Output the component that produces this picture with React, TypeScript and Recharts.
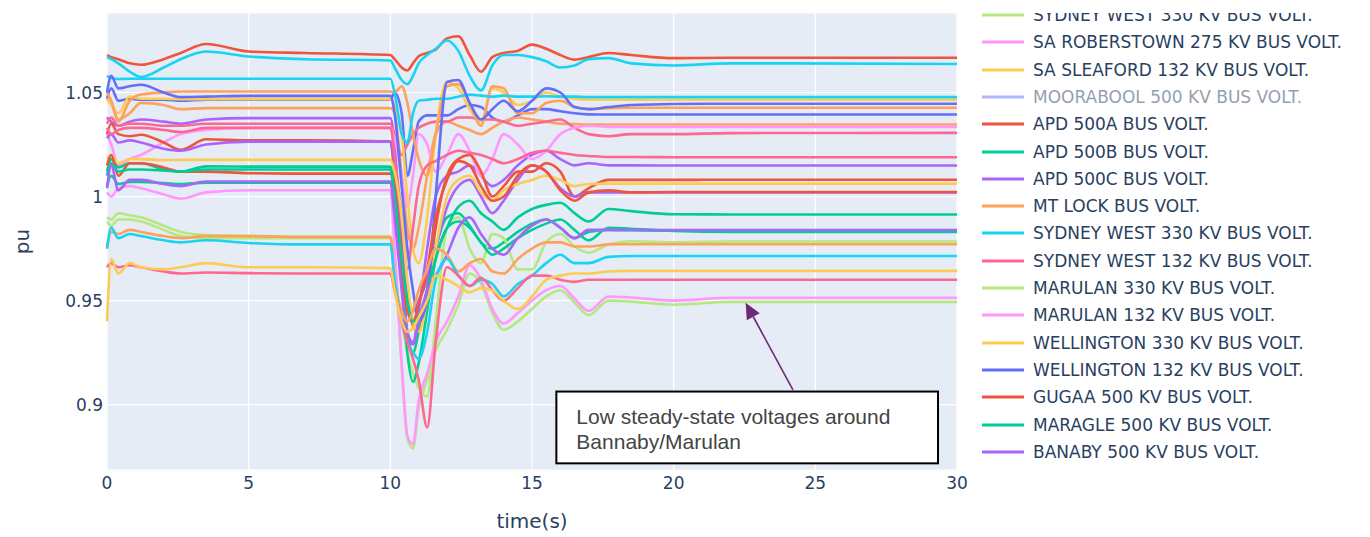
import { CartesianGrid, Line, LineChart, ReferenceArea, ReferenceLine, XAxis, YAxis } from "recharts";

// sample times (s)
const TIME = [0, 0.15, 0.4, 0.8, 1.2, 2, 2.6, 3.5, 5, 7, 10, 10.15, 10.4, 10.6, 10.8, 11, 11.3, 11.6, 12, 12.4, 12.8, 13.2, 13.6, 14, 14.5, 15, 15.5, 16, 16.5, 17, 17.7, 18.5, 20, 22, 30];

// bus voltages (pu), one value per sample time
const other0 = [1.047, 1.052, 1.046, 1.047, 1.0465, 1.0465, 1.046, 1.0465, 1.0465, 1.0465, 1.0465, 1.05, 1.04, 1.01, 1.022, 1.036, 1.039, 1.039, 1.039, 1.042, 1.044, 1.043, 1.038, 1.036, 1.039, 1.042, 1.042, 1.041, 1.04, 1.0395, 1.0394, 1.0394, 1.0394, 1.0394, 1.0394];
const other1 = [1.068, 1.067, 1.066, 1.064, 1.0633, 1.066, 1.069, 1.0733, 1.0697, 1.069, 1.068, 1.066, 1.062, 1.0606, 1.064, 1.0674, 1.069, 1.0706, 1.076, 1.077, 1.068, 1.06, 1.067, 1.069, 1.07, 1.073, 1.071, 1.068, 1.0658, 1.067, 1.069, 1.068, 1.0665, 1.0667, 1.0667];
const other2 = [1.005, 1.01, 1.006, 1.007, 1.007, 1.0065, 1.006, 1.0067, 1.0067, 1.0067, 1.0067, 0.995, 0.96, 0.935, 0.925, 0.935, 0.955, 0.975, 0.99, 0.992, 0.986, 0.978, 0.975, 0.978, 0.983, 0.987, 0.989, 0.985, 0.98, 0.983, 0.984, 0.9838, 0.9836, 0.9836, 0.9836];
const other3 = [1.038, 1.036, 1.034, 1.036, 1.037, 1.036, 1.035, 1.037, 1.0377, 1.0377, 1.0377, 1.025, 0.97, 0.935, 0.93, 0.945, 0.975, 1.0, 1.01, 1.012, 1.015, 1.01, 1.005, 1.008, 1.015, 1.02, 1.022, 1.018, 1.015, 1.016, 1.015, 1.015, 1.0149, 1.0149, 1.0149];
const other4 = [1.047, 1.045, 1.037, 1.04, 1.045, 1.044, 1.042, 1.0425, 1.0425, 1.0425, 1.0425, 1.04, 1.01, 0.985, 0.975, 0.985, 1.01, 1.03, 1.036, 1.034, 1.032, 1.03, 1.033, 1.036, 1.038, 1.037, 1.036, 1.035, 1.0348, 1.0346, 1.0346, 1.0346, 1.0346, 1.0346, 1.0346];
const other5 = [1.067, 1.066, 1.064, 1.06, 1.0574, 1.062, 1.066, 1.0697, 1.0673, 1.066, 1.0654, 1.062, 1.056, 1.054, 1.058, 1.064, 1.068, 1.071, 1.075, 1.07, 1.058, 1.051, 1.063, 1.068, 1.068, 1.067, 1.065, 1.062, 1.063, 1.066, 1.0665, 1.064, 1.063, 1.064, 1.0637];
const other6 = [1.035, 1.038, 1.034, 1.035, 1.035, 1.034, 1.034, 1.035, 1.035, 1.035, 1.035, 1.03, 1.02, 1.025, 1.03, 1.033, 1.035, 1.036, 1.036, 1.038, 1.038, 1.037, 1.037, 1.036, 1.034, 1.035, 1.036, 1.037, 1.033, 1.03, 1.029, 1.03, 1.03, 1.0305, 1.0306];
const sydneyWest330a = [0.99, 0.989, 0.992, 0.991, 0.99, 0.986, 0.983, 0.9815, 0.981, 0.9808, 0.9808, 0.965, 0.94, 0.925, 0.915, 0.908, 0.904, 0.94, 0.985, 0.99, 0.975, 0.968, 0.982, 0.98, 0.965, 0.965, 0.978, 0.982, 0.976, 0.973, 0.977, 0.9785, 0.978, 0.9784, 0.9784];
const saRoberstown275 = [1.03, 1.025, 1.015, 1.018, 1.02, 1.026, 1.03, 1.032, 1.033, 1.033, 1.033, 1.028, 1.01, 0.995, 1.01, 1.03, 1.025, 1.012, 1.02, 1.03, 1.022, 1.01, 1.018, 1.03, 1.025, 1.018, 1.022, 1.03, 1.033, 1.034, 1.0335, 1.0335, 1.0335, 1.0335, 1.0335];
const saSleaford132 = [1.047, 1.044, 1.04, 1.048, 1.047, 1.047, 1.0468, 1.0468, 1.0468, 1.0468, 1.0468, 1.044, 1.03, 1.0, 0.975, 0.968, 0.99, 1.03, 1.055, 1.052, 1.042, 1.036, 1.052, 1.05, 1.044, 1.046, 1.05, 1.048, 1.047, 1.0465, 1.0465, 1.0465, 1.0465, 1.0465, 1.0465];
const apd500a = [1.03, 1.035, 1.03, 1.029, 1.0297, 1.026, 1.0225, 1.0275, 1.027, 1.027, 1.0264, 1.01, 0.975, 0.95, 0.938, 0.935, 0.955, 0.985, 1.01, 1.018, 1.02, 1.012, 1.0, 1.005, 1.012, 1.012, 1.016, 1.012, 1.0, 1.004, 1.008, 1.008, 1.008, 1.0081, 1.0081];
const apd500b = [1.012, 1.018, 1.014, 1.016, 1.016, 1.013, 1.012, 1.0145, 1.0144, 1.0144, 1.0144, 1.0, 0.96, 0.925, 0.911, 0.92, 0.945, 0.97, 0.985, 0.995, 0.998, 0.992, 0.988, 0.984, 0.99, 0.994, 0.996, 0.997, 0.992, 0.988, 0.994, 0.993, 0.9915, 0.9914, 0.9914];
const apd500c = [1.028, 1.03, 1.026, 1.027, 1.026, 1.023, 1.022, 1.025, 1.0264, 1.0264, 1.0264, 1.015, 0.985, 0.955, 0.945, 0.95, 0.96, 0.975, 0.995, 1.005, 1.008, 1.0, 0.992, 0.998, 1.008, 1.015, 1.012, 1.004, 1.0, 1.002, 1.002, 1.002, 1.002, 1.002, 1.002];
const mtLock = [1.05, 1.046, 1.036, 1.046, 1.049, 1.05, 1.0505, 1.0505, 1.0505, 1.0505, 1.0505, 1.05, 1.053, 1.045, 1.03, 1.018, 1.01, 1.03, 1.053, 1.054, 1.045, 1.034, 1.053, 1.052, 1.04, 1.04, 1.045, 1.046, 1.043, 1.042, 1.0425, 1.0427, 1.0427, 1.0427, 1.0427];
const sydneyWest330b = [1.058, 1.057, 1.0565, 1.0566, 1.0566, 1.0566, 1.0566, 1.0566, 1.0566, 1.0566, 1.0566, 1.05, 1.03, 1.026, 1.04, 1.046, 1.0465, 1.047, 1.047, 1.048, 1.049, 1.0485, 1.048, 1.0485, 1.048, 1.048, 1.0482, 1.048, 1.048, 1.0478, 1.0478, 1.0478, 1.0478, 1.0478, 1.0478];
const sydneyWest132 = [1.033, 1.03, 1.032, 1.033, 1.033, 1.032, 1.031, 1.033, 1.033, 1.033, 1.033, 1.02, 0.99, 0.965, 0.985, 1.005, 1.015, 1.017, 1.02, 1.022, 1.021, 1.02, 1.018, 1.016, 1.018, 1.021, 1.022, 1.021, 1.02, 1.0195, 1.019, 1.019, 1.0189, 1.0189, 1.0189];
const marulan330 = [0.988, 0.986, 0.989, 0.989, 0.988, 0.984, 0.981, 0.98, 0.98, 0.98, 0.98, 0.972, 0.918, 0.884, 0.879, 0.898, 0.912, 0.926, 0.936, 0.948, 0.963, 0.958, 0.944, 0.936, 0.94, 0.946, 0.952, 0.955, 0.949, 0.943, 0.95, 0.9495, 0.948, 0.9494, 0.9494];
const marulan132 = [1.002, 1.0, 1.004, 1.005, 1.004, 1.001, 0.999, 1.002, 1.003, 1.003, 1.003, 0.975, 0.92, 0.885, 0.881, 0.902, 0.915, 0.93, 0.94, 0.952, 0.967, 0.96, 0.946, 0.939, 0.944, 0.95, 0.955, 0.957, 0.951, 0.945, 0.952, 0.9515, 0.95, 0.9514, 0.9514];
const wellington330 = [1.018, 1.02, 1.016, 1.018, 1.018, 1.0175, 1.0176, 1.0176, 1.0176, 1.0176, 1.0176, 1.012, 0.99, 0.96, 0.94, 0.935, 0.95, 0.975, 1.0, 1.008, 1.01, 1.002, 0.998, 1.003, 1.006, 1.008, 1.01, 1.008, 1.005, 1.006, 1.0062, 1.0062, 1.0062, 1.0062, 1.0062];
const wellington132 = [1.05, 1.058, 1.052, 1.053, 1.0537, 1.05, 1.0478, 1.048, 1.0484, 1.0484, 1.0484, 1.04, 1.005, 0.975, 0.955, 0.94, 0.95, 1.0, 1.055, 1.056, 1.045, 1.037, 1.042, 1.046, 1.041, 1.046, 1.052, 1.05, 1.043, 1.042, 1.043, 1.044, 1.0445, 1.0446, 1.0446];
const gugaa500 = [1.015, 1.02, 1.01, 1.016, 1.016, 1.014, 1.012, 1.012, 1.0112, 1.011, 1.011, 1.0, 0.965, 0.945, 0.94, 0.948, 0.965, 0.99, 1.008, 1.017, 1.015, 1.005, 0.998, 1.0, 1.01, 1.015, 1.012, 1.003, 0.998, 1.002, 1.003, 1.002, 1.0022, 1.0022, 1.0022];
const maragle500 = [1.01, 1.016, 1.012, 1.013, 1.013, 1.0125, 1.012, 1.013, 1.013, 1.013, 1.013, 1.0, 0.97, 0.95, 0.94, 0.942, 0.955, 0.97, 0.985, 0.988, 0.985, 0.978, 0.972, 0.975, 0.98, 0.984, 0.987, 0.989, 0.984, 0.979, 0.985, 0.9845, 0.9835, 0.983, 0.983];
const banaby500 = [1.004, 1.015, 1.003, 1.008, 1.008, 1.006, 1.005, 1.0072, 1.0072, 1.0072, 1.0072, 0.99, 0.955, 0.93, 0.929, 0.94, 0.955, 0.962, 0.972, 0.985, 0.99, 0.982, 0.975, 0.972, 0.98, 0.986, 0.989, 0.985, 0.98, 0.984, 0.984, 0.9839, 0.9839, 0.9839, 0.9839];
const other24 = [0.975, 0.983, 0.982, 0.984, 0.983, 0.981, 0.98, 0.981, 0.981, 0.9805, 0.9805, 0.96, 0.945, 0.94, 0.945, 0.955, 0.965, 0.975, 0.972, 0.964, 0.968, 0.97, 0.964, 0.963, 0.97, 0.975, 0.978, 0.978, 0.976, 0.976, 0.977, 0.9771, 0.9771, 0.9771, 0.9771];
const other25 = [0.975, 0.985, 0.98, 0.982, 0.981, 0.979, 0.978, 0.979, 0.9777, 0.977, 0.977, 0.96, 0.94, 0.93, 0.925, 0.922, 0.935, 0.96, 0.97, 0.962, 0.957, 0.96, 0.958, 0.952, 0.958, 0.962, 0.968, 0.972, 0.968, 0.968, 0.971, 0.9714, 0.9714, 0.9714, 0.9714];
const other26 = [0.966, 0.968, 0.966, 0.967, 0.966, 0.964, 0.963, 0.9635, 0.9632, 0.963, 0.963, 0.955, 0.94, 0.93, 0.922, 0.912, 0.889, 0.93, 0.966, 0.962, 0.957, 0.961, 0.955, 0.95, 0.956, 0.962, 0.962, 0.96, 0.959, 0.96, 0.96, 0.96, 0.96, 0.96, 0.96];
const other27 = [0.94, 0.97, 0.963, 0.968, 0.966, 0.965, 0.966, 0.968, 0.966, 0.966, 0.9656, 0.955, 0.94, 0.935, 0.937, 0.942, 0.95, 0.962, 0.96, 0.957, 0.954, 0.956, 0.955, 0.95, 0.946, 0.952, 0.96, 0.962, 0.963, 0.963, 0.964, 0.9643, 0.9643, 0.9643, 0.9643];

const Y_TICKS = [0.9, 0.95, 1, 1.05];
const X_TICKS = [0, 5, 10, 15, 20, 25, 30];

const NOTE_LINES = ["Low steady-state voltages around", "Bannaby/Marulan"];
const NOTE_TIP = { x: 22.54, y: 0.949 };
const NOTE_TAIL = { x: 24.21, y: 0.9071 };
const NOTE_BOX = { x1: 15.86, x2: 29.33, y1: 0.8718, y2: 0.9063 };

const BLUE = "#636efa";
const RED = "#EF553B";
const GREEN = "#00cc96";
const PURPLE = "#ab63fa";
const ORANGE = "#FFA15A";
const CYAN = "#19d3f3";
const ROSE = "#FF6692";
const LIME = "#B6E880";
const PINK = "#FF97FF";
const GOLD = "#FECB52";
const TEXT = "#2a3f5f";
const FONT = "'DejaVu Sans', Verdana, sans-serif";

type Trace = { key: string; name?: string; color: string; values: number[] | null };

// values: null = legend-only trace (toggled off)
const TRACES: Trace[] = [
  { key: "t00", color: BLUE, values: other0 },
  { key: "t01", color: RED, values: other1 },
  { key: "t02", color: GREEN, values: other2 },
  { key: "t03", color: PURPLE, values: other3 },
  { key: "t04", color: ORANGE, values: other4 },
  { key: "t05", color: CYAN, values: other5 },
  { key: "t06", color: ROSE, values: other6 },
  { key: "t07", name: "SYDNEY WEST 330 KV BUS VOLT.", color: LIME, values: sydneyWest330a },
  { key: "t08", name: "SA ROBERSTOWN 275 KV BUS VOLT.", color: PINK, values: saRoberstown275 },
  { key: "t09", name: "SA SLEAFORD 132 KV BUS VOLT.", color: GOLD, values: saSleaford132 },
  { key: "t10", name: "MOORABOOL 500 KV BUS VOLT.", color: BLUE, values: null },
  { key: "t11", name: "APD 500A BUS VOLT.", color: RED, values: apd500a },
  { key: "t12", name: "APD 500B BUS VOLT.", color: GREEN, values: apd500b },
  { key: "t13", name: "APD 500C BUS VOLT.", color: PURPLE, values: apd500c },
  { key: "t14", name: "MT LOCK BUS VOLT.", color: ORANGE, values: mtLock },
  { key: "t15", name: "SYDNEY WEST 330 KV BUS VOLT.", color: CYAN, values: sydneyWest330b },
  { key: "t16", name: "SYDNEY WEST 132 KV BUS VOLT.", color: ROSE, values: sydneyWest132 },
  { key: "t17", name: "MARULAN 330 KV BUS VOLT.", color: LIME, values: marulan330 },
  { key: "t18", name: "MARULAN 132 KV BUS VOLT.", color: PINK, values: marulan132 },
  { key: "t19", name: "WELLINGTON 330 KV BUS VOLT.", color: GOLD, values: wellington330 },
  { key: "t20", name: "WELLINGTON 132 KV BUS VOLT.", color: BLUE, values: wellington132 },
  { key: "t21", name: "GUGAA 500 KV BUS VOLT.", color: RED, values: gugaa500 },
  { key: "t22", name: "MARAGLE 500 KV BUS VOLT.", color: GREEN, values: maragle500 },
  { key: "t23", name: "BANABY 500 KV BUS VOLT.", color: PURPLE, values: banaby500 },
  { key: "t24", color: ORANGE, values: other24 },
  { key: "t25", color: CYAN, values: other25 },
  { key: "t26", color: ROSE, values: other26 },
  { key: "t27", color: GOLD, values: other27 },
];

const rows = TIME.map((t, i) => {
  const row: Record<string, number> = { t };
  TRACES.forEach((tr) => {
    if (tr.values) row[tr.key] = tr.values[i];
  });
  return row;
});

function Arrow(props: any) {
  const { x1, y1, x2, y2, stroke } = props;
  const len = Math.hypot(x1 - x2, y1 - y2);
  const ux = (x1 - x2) / len;
  const uy = (y1 - y2) / len;
  const head = 16;
  const half = 7.4;
  const bx = x2 + ux * head;
  const by = y2 + uy * head;
  const pts = `${x2},${y2} ${bx - uy * half},${by + ux * half} ${bx + uy * half},${by - ux * half}`;
  return (
    <g>
      <line x1={x1} y1={y1} x2={bx} y2={by} stroke={stroke} strokeWidth={1.6} />
      <polygon points={pts} fill={stroke} />
    </g>
  );
}

function NoteBox(props: any) {
  const { x, y, width, height } = props;
  return (
    <g>
      <rect x={x} y={y} width={width} height={height} fill="#fff" stroke="#000" strokeWidth={2} />
      <text x={x + 20} y={y + 32.5} fontFamily="'Liberation Sans', Arial, sans-serif" fontSize={21} fill="#444">
        <tspan x={x + 20}>{NOTE_LINES[0]}</tspan>
        <tspan x={x + 20} dy={24.5}>{NOTE_LINES[1]}</tspan>
      </text>
    </g>
  );
}

function LegendPanel() {
  const items = TRACES.filter((tr) => tr.name);
  return (
    <div style={{ position: "absolute", left: 980, top: 13, width: 390, height: 457, overflow: "hidden" }}>
      <div style={{ marginTop: -11.6 }}>
        {items.map((it) => (
          <div
            key={it.key}
            style={{ height: 27.3, display: "flex", alignItems: "center", opacity: it.values ? 1 : 0.5 }}
          >
            <svg width={53} height={8} style={{ flex: "none" }}>
              <line x1={2} x2={44} y1={4} y2={4} stroke={it.color} strokeWidth={3} />
            </svg>
            <span style={{ fontFamily: FONT, fontSize: 17, color: TEXT, whiteSpace: "nowrap" }}>{it.name}</span>
          </div>
        ))}
      </div>
    </div>
  );
}

export default function App() {
  const tick = { fill: TEXT, fontSize: 17, fontFamily: FONT };
  return (
    <div style={{ position: "absolute", left: 0, top: 0, width: 1370, height: 537, background: "#fff", fontFamily: FONT }}>
      <LineChart width={1370} height={537} data={rows} margin={{ top: 13, right: 413, bottom: 0, left: 0 }}>
        <CartesianGrid stroke="#fff" strokeWidth={1.2} fill="#E5ECF6" />
        <XAxis
          dataKey="t"
          type="number"
          domain={[0, 30]}
          ticks={X_TICKS}
          axisLine={false}
          tickLine={false}
          tickSize={0}
          tickMargin={7}
          height={67}
          tick={tick}
          label={{
            content: ({ viewBox }: any) => (
              <text x={viewBox.x + viewBox.width / 2} y={528} textAnchor="middle" fontSize={20} fill={TEXT} fontFamily={FONT}>
                time(s)
              </text>
            ),
          }}
        />
        <YAxis
          type="number"
          domain={[0.8686, 1.0882]}
          allowDataOverflow
          ticks={Y_TICKS}
          axisLine={false}
          tickLine={false}
          tickSize={0}
          tickMargin={4}
          width={107}
          tick={tick}
          tickFormatter={(v: number) => String(v)}
          label={{
            content: ({ viewBox }: any) => {
              const cy = viewBox.y + viewBox.height / 2;
              return (
                <text x={29} y={cy} transform={`rotate(-90, 29, ${cy})`} textAnchor="middle" fontSize={20} fill={TEXT} fontFamily={FONT}>
                  pu
                </text>
              );
            },
          }}
        />
        {TRACES.filter((tr) => tr.values).map((tr) => (
          <Line
            key={tr.key}
            dataKey={tr.key}
            type="monotone"
            stroke={tr.color}
            strokeWidth={2.6}
            dot={false}
            activeDot={false}
            isAnimationActive={false}
          />
        ))}
        <ReferenceArea {...NOTE_BOX} ifOverflow="visible" shape={(p: any) => <NoteBox {...p} />} />
        <ReferenceLine
          segment={[NOTE_TAIL, NOTE_TIP]}
          stroke="#6c2b74"
          ifOverflow="visible"
          shape={(p: any) => <Arrow {...p} stroke="#6c2b74" />}
        />
      </LineChart>
      <LegendPanel />
    </div>
  );
}
